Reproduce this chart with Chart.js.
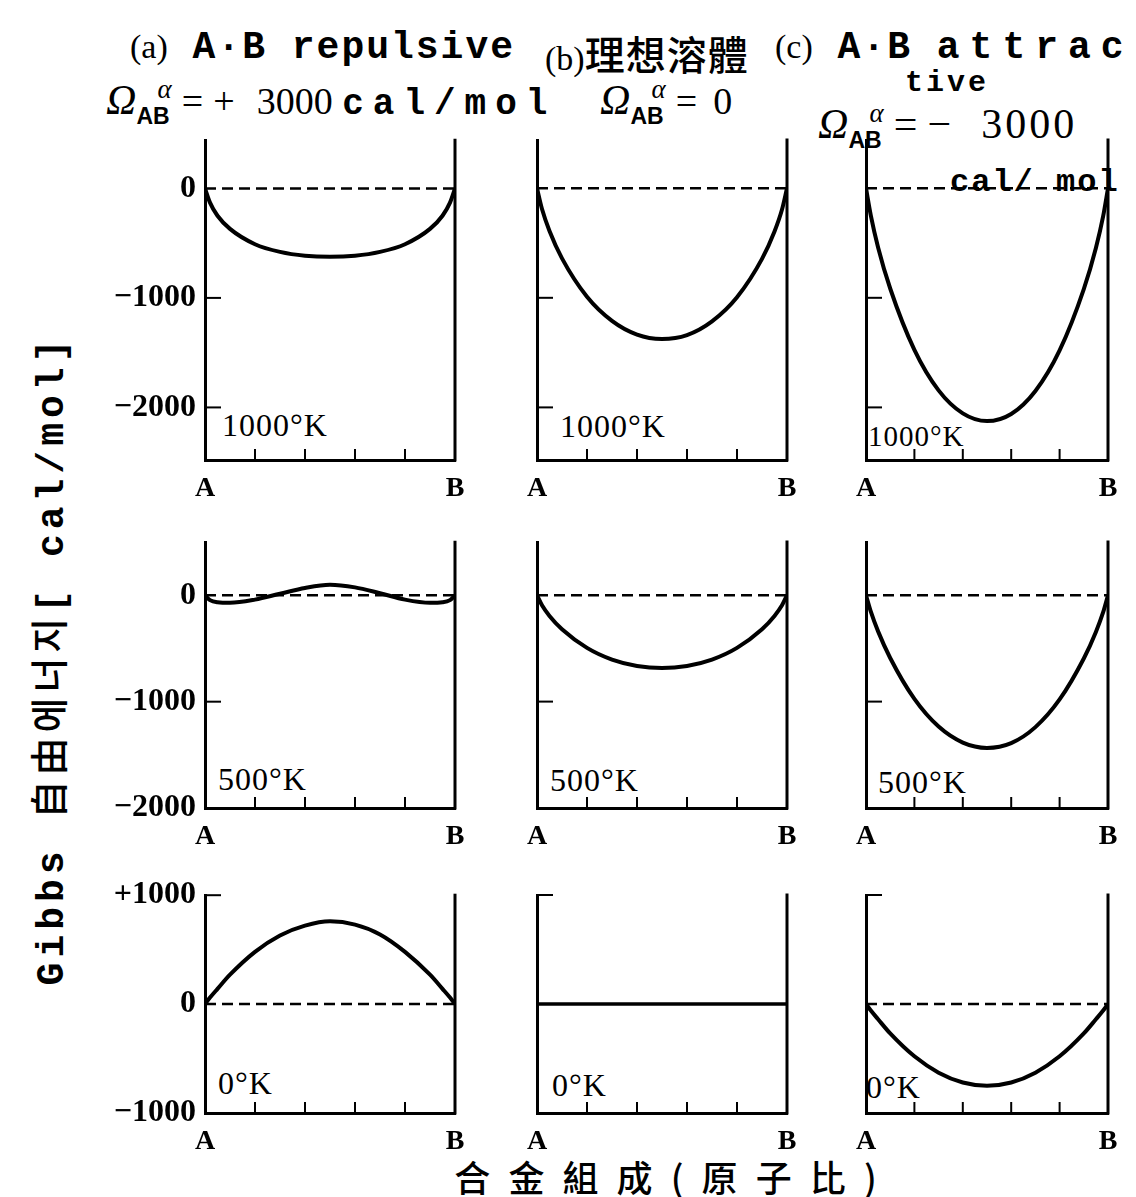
<!DOCTYPE html>
<html>
<head>
<meta charset="utf-8">
<script src="https://cdn.jsdelivr.net/npm/chart.js@4"></script>
<style>
body { margin: 0; background: #fff; width: 1136px; height: 1197px; position: relative; overflow: hidden; }
canvas { position: absolute; }
.t { position: absolute; white-space: nowrap; color: #000; line-height: 1; }
.head { font: bold 38px 'Liberation Mono'; letter-spacing: 2px; }
.head .p { font: 34px 'Liberation Serif'; letter-spacing: 0; }
.cjk { font-family: 'Noto Sans CJK TC'; font-weight: 500; }
.om { font: 38px 'Liberation Serif'; }
.om .O { font-style: italic; font-size: 42px; }
.om .ab { font: bold 23px 'Liberation Sans'; position: relative; top: 10px; }
.om .al { font-size: 27px; font-style: italic; position: relative; top: -16px; margin-left: -12px; margin-right: 10px; }
.om .cm { font: bold 36px 'Liberation Mono'; letter-spacing: 9px; }
.temp { font: 32px 'Liberation Serif'; letter-spacing: 1px; }
</style>
</head>
<body>

<div class="t head" style="left:130px;top:26px"><span class="p">(a)</span> A·B repulsive</div>
<div class="t head" style="left:545px;top:24px"><span class="p">(b)</span><span class="cjk" style="font-size:40px;letter-spacing:1px">理想溶體</span></div>
<div class="t head" style="left:775px;top:26px"><span class="p">(c)</span> A·B <span style="letter-spacing:10px">attrac</span></div>
<div class="t head" style="left:905px;top:66px;font-size:30px;letter-spacing:3px">tive</div>

<div class="t om" style="left:106px;top:76px"><span class="O">Ω</span><span class="ab">AB</span><span class="al">α</span>=<span style="margin-left:10px">+</span><span style="margin-left:22px">3000</span> <span class="cm">cal/mol</span></div>
<div class="t om" style="left:600px;top:76px"><span class="O">Ω</span><span class="ab">AB</span><span class="al">α</span>=<span style="margin-left:16px">0</span></div>
<div class="t om" style="left:818px;top:100px;font-size:42px"><span class="O">Ω</span><span class="ab">AB</span><span class="al">α</span>=<span style="margin-left:10px">−</span><span style="margin-left:30px;letter-spacing:3px">3000</span></div>
<div class="t om" style="left:950px;top:156px"><span class="cm" style="font-size:32px;letter-spacing:2px">cal/ mol</span></div>

<div class="t" style="left:46px;top:660px;transform:translate(-50%,-50%) rotate(-90deg);font:bold 38px 'Liberation Mono';letter-spacing:5px">Gibbs <span style="font-family:'Noto Sans CJK KR';font-weight:500">自由에너지</span>[ cal/mol]</div>
<div class="t" style="left:668px;top:1150px;transform:translateX(-50%);font:500 36px 'Noto Sans CJK TC';letter-spacing:5px">合 金 組 成 ( 原 子 比 )</div>

<div class="t temp" style="left:222px;top:407px">1000°K</div>
<div class="t temp" style="left:560px;top:408px">1000°K</div>
<div class="t temp" style="left:868px;top:420px;font-size:29px">1000°K</div>
<div class="t temp" style="left:218px;top:761px">500°K</div>
<div class="t temp" style="left:550px;top:762px">500°K</div>
<div class="t temp" style="left:878px;top:764px">500°K</div>
<div class="t temp" style="left:218px;top:1065px">0°K</div>
<div class="t temp" style="left:552px;top:1067px">0°K</div>
<div class="t temp" style="left:866px;top:1069px">0°K</div>

<script>
// 組成 (A=0, B=1)
const composition = [0, 0.02, 0.05, 0.1, 0.2, 0.3, 0.4, 0.5, 0.6, 0.7, 0.8, 0.9, 0.95, 0.98, 1];

// 1000 K
const g1000Repulsive = [0, -130, -250, -370, -510, -580, -615, -625, -615, -580, -510, -370, -250, -130, 0];
const g1000Ideal = [0, -190, -390, -640, -990, -1210, -1335, -1375, -1340, -1215, -995, -645, -395, -195, 0];
const g1000Attractive = [0, -250, -540, -915, -1475, -1845, -2055, -2125, -2060, -1850, -1480, -920, -545, -255, 0];

// 500 K
const g500Repulsive = [0, -45, -65, -70, -40, 15, 70, 100, 75, 20, -40, -70, -65, -45, 0];
const g500Ideal = [0, -95, -195, -320, -495, -605, -665, -685, -665, -605, -495, -320, -195, -95, 0];
const g500Attractive = [0, -155, -340, -590, -975, -1235, -1385, -1435, -1390, -1240, -980, -595, -345, -160, 0];

// 0 K
const g0Repulsive = [0, 60, 140, 270, 480, 630, 720, 760, 730, 640, 480, 270, 140, 60, 0];
const g0Ideal = [0, 0, 0, 0, 0, 0, 0, 0, 0, 0, 0, 0, 0, 0, 0];
const g0Attractive = [0, -60, -140, -270, -480, -630, -720, -750, -720, -630, -480, -270, -140, -60, 0];

const zeroLine = [0, 0];
const zeroLineX = [0, 1];

const yTicksHigh = [0, -1000, -2000];
const yTicksLow = [1000, 0, -1000];
const xTicks = [0, 0.2, 0.4, 0.6, 0.8, 1];
const endLabels = ['A', 'B'];

// 배치
const cols = [
    { left: 205, w: 250, labels: true },
    { left: 537, w: 250, labels: false },
    { left: 866, w: 242, labels: false }
];
const rows = [
    { top: 140, h: 320, min: -2480, max: 440, ticks: yTicksHigh },
    { top: 542, h: 266, min: -2000, max: 500, ticks: yTicksHigh },
    { top: 895, h: 218, min: -1000, max: 1000, ticks: yTicksLow }
];

const panels = [
    [g1000Repulsive, g1000Ideal, g1000Attractive],
    [g500Repulsive, g500Ideal, g500Attractive],
    [g0Repulsive, g0Ideal, g0Attractive]
];

function fmtY(v) {
    if (v === 0) return '0';
    if (v > 0) return '+' + v;
    return '−' + Math.abs(v);
}

// 오른쪽 축과 안쪽 눈금
const framePlugin = {
    id: 'frame',
    afterDraw(chart) {
        const { ctx, chartArea: a, scales } = chart;
        ctx.save();
        ctx.strokeStyle = '#000';
        ctx.lineCap = 'square';
        ctx.lineWidth = 3;
        ctx.beginPath();
        ctx.moveTo(a.right, a.top);
        ctx.lineTo(a.right, a.bottom);
        ctx.stroke();
        ctx.lineWidth = 2;
        scales.y.ticks.forEach(t => {
            if (t.value === 0) return;
            const y = scales.y.getPixelForValue(t.value);
            ctx.beginPath();
            ctx.moveTo(a.left, y);
            ctx.lineTo(a.left + 15, y);
            ctx.stroke();
        });
        scales.x.ticks.forEach(t => {
            if (t.value === 0 || t.value === 1) return;
            const x = scales.x.getPixelForValue(t.value);
            ctx.beginPath();
            ctx.moveTo(x, a.bottom);
            ctx.lineTo(x, a.bottom - 10);
            ctx.stroke();
        });
        ctx.restore();
    }
};

function makePanel(row, col, values, dashed) {
    const LW = 110, PT = 20, PR = 25, XH = 45;
    const c = document.createElement('canvas');
    c.width = LW + col.w + PR;
    c.height = PT + row.h + XH;
    c.style.left = (col.left - LW) + 'px';
    c.style.top = (row.top - PT) + 'px';
    document.body.appendChild(c);

    const datasets = [];
    if (dashed) {
        datasets.push({
            data: zeroLineX.map((x, i) => ({ x, y: zeroLine[i] })),
            borderColor: '#000', borderWidth: 2.5, borderDash: [11, 6], pointRadius: 0
        });
    }
    datasets.push({
        data: composition.map((x, i) => ({ x, y: values[i] })),
        borderColor: '#000', borderWidth: dashed ? 4 : 3.5, pointRadius: 0,
        cubicInterpolationMode: 'monotone'
    });

    new Chart(c, {
        type: 'line',
        data: { datasets },
        options: {
            responsive: false,
            animation: false,
            events: [],
            layout: { padding: { top: PT, right: PR, left: 0, bottom: 0 } },
            plugins: { legend: { display: false }, tooltip: { enabled: false } },
            scales: {
                x: {
                    type: 'linear', min: 0, max: 1,
                    grid: { display: false },
                    border: { display: true, color: '#000', width: 3 },
                    afterBuildTicks: s => { s.ticks = xTicks.map(v => ({ value: v })); },
                    afterFit: s => { s.height = XH; },
                    ticks: {
                        autoSkip: false, maxRotation: 0, padding: 4, color: '#000',
                        font: { family: 'Liberation Serif', size: 28, weight: 'bold' },
                        callback: v => v === 0 ? endLabels[0] : (v === 1 ? endLabels[1] : '')
                    }
                },
                y: {
                    min: row.min, max: row.max,
                    grid: { display: false },
                    border: { display: true, color: '#000', width: 3 },
                    afterBuildTicks: s => { s.ticks = row.ticks.map(v => ({ value: v })); },
                    afterFit: s => { s.width = LW; },
                    ticks: {
                        display: col.labels, padding: 1, color: '#000',
                        font: { family: 'Liberation Serif', size: 32, weight: 'bold' },
                        callback: v => fmtY(v)
                    }
                }
            }
        },
        plugins: [framePlugin]
    });
}

rows.forEach((row, r) => {
    cols.forEach((col, ci) => {
        const dashed = !(r === 2 && ci === 1);
        makePanel(row, col, panels[r][ci], dashed);
    });
});
</script>
</body>
</html>
